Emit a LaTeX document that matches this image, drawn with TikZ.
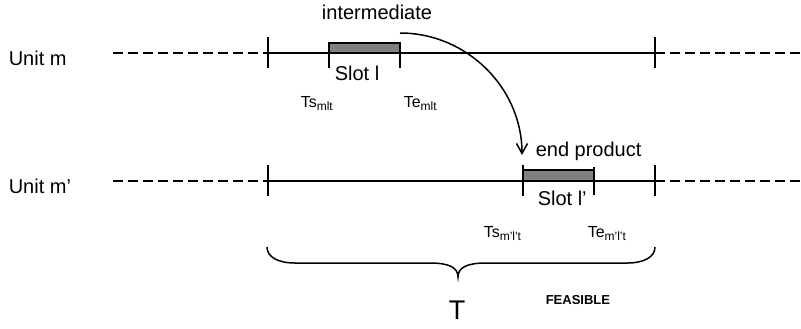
\documentclass[tikz,border=0pt]{standalone}
\usepackage{fontspec}
\setmainfont{Liberation Sans}
\usetikzlibrary{arrows.meta}
\begin{document}
\begin{tikzpicture}[
    x=0.5pt,
    y=-0.5pt,
    line width=0.75pt,
    every node/.style={
        inner sep=0pt,
        font=\fontsize{10}{12}\selectfont,
    },
    unitname/.style={anchor=base west},
    dashline/.style={draw, dash pattern=on 5pt off 2.5pt},
    slotbar/.style={draw, fill=gray},
    timelabel/.style={anchor=base west, font=\fontsize{8}{10}\selectfont},
    flow/.style={draw, -{Straight Barb[length=5pt,width=5.5pt]}},
    ]
    \useasboundingbox (0,0) rectangle (801,328);
    % unit m
    \node[unitname] (unitm) at (8,65) {Unit m};
    \coordinate (ma) at (268,53);
    \coordinate (mb) at (655,53);
    \draw[dashline] (113,53) -- (ma);
    \draw (ma) -- (mb);
    \draw[dashline] (mb) -- (801,53);
    \draw (268,37) -- (268,68);
    \draw (655,37) -- (655,68);
    \draw[slotbar] (329,43) rectangle (400,53);
    \draw (329,43) -- (329,68);
    \draw (400,43) -- (400,68);
    \node[anchor=base] (inter) at (377,19) {intermediate};
    \node[anchor=base] (slotl) at (357,80) {Slot l};
    \node[timelabel] (tsm) at (300,107) {Ts\raisebox{-1.5pt}{\fontsize{6}{7}\selectfont mlt}};
    \node[timelabel] (tem) at (403,107) {Te\raisebox{-1.5pt}{\fontsize{6}{7}\selectfont mlt}};
    % unit m'
    \node[unitname] (unitmp) at (8,193) {Unit m’};
    \coordinate (mpa) at (268,181);
    \coordinate (mpb) at (655,181);
    \draw[dashline] (113,181) -- (mpa);
    \draw (mpa) -- (mpb);
    \draw[dashline] (mpb) -- (801,181);
    \draw (268,165) -- (268,196);
    \draw (655,165) -- (655,196);
    \draw[slotbar] (523,170) rectangle (594,181);
    \draw (523,165) -- (523,196);
    \draw (594,167) -- (594,195);
    \node[anchor=base west] (endprod) at (535,156) {end product};
    \node[anchor=base west] (slotlp) at (537,205) {Slot l’};
    \node[timelabel] (tsmp) at (483,237) {Ts\raisebox{-1.5pt}{\fontsize{6}{7}\selectfont m’l’t}};
    \node[timelabel] (temp) at (587,237) {Te\raisebox{-1.5pt}{\fontsize{6}{7}\selectfont m’l’t}};
    % transfer
    \coordinate (from) at (400,33);
    \coordinate (to) at (522,155);
    \draw[flow] (from) .. controls (467,33) and (522,88) .. (to);
    % horizon
    \draw (267,247) .. controls (267,257) and (278,263) .. (295,263)
        -- (430,263) .. controls (448,263) and (458,267) .. (458,277)
        .. controls (458,267) and (468,263) .. (486,263)
        -- (627,263) .. controls (644,263) and (655,257) .. (655,247);
    \node[anchor=base, font=\fontsize{13.5}{16}\selectfont] (horizon) at (457,319) {T};
    \node[anchor=base west, font=\fontsize{6.5}{8}\selectfont\bfseries] (feas) at (545,304) {FEASIBLE};
\end{tikzpicture}
\end{document}
